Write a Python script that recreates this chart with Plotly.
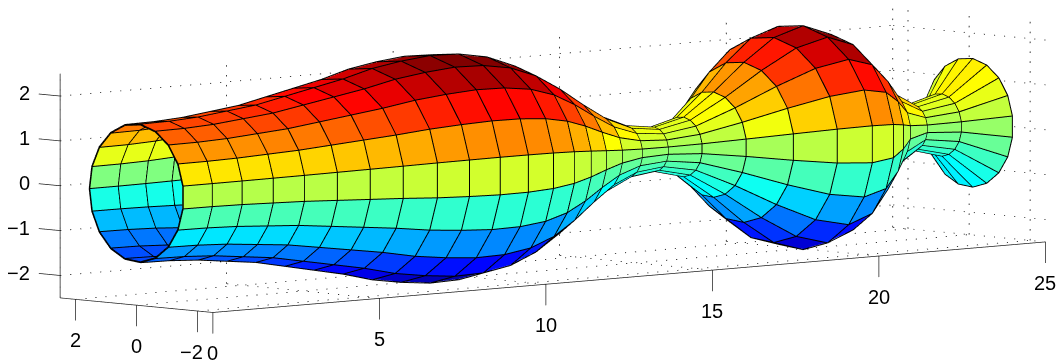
import numpy as np
import plotly.graph_objects as go

# radius of the tube at each section
radius = [1.54, 1.55, 1.59, 1.67, 1.75, 1.89, 2.03, 2.17, 2.35, 2.46,
          2.53, 2.51, 2.39, 2.13, 1.74, 1.29, 0.87, 0.58, 0.49, 0.66,
          1.17, 1.78, 2.28, 2.49, 2.24, 1.62, 0.90, 0.51, 0.69, 1.43]
x_ticks = [0, 5, 10, 15, 20, 25]
y_ticks = [-2, 0, 2]
z_ticks = [-2, -1, 0, 1, 2]
sides = 19
x_lim = (0, 25)
y_lim = (-2.5, 2.5)
z_lim = (-2.5, 2.5)

jet = [[0, 'rgb(0,0,128)'], [0.125, 'rgb(0,0,255)'], [0.375, 'rgb(0,255,255)'],
       [0.625, 'rgb(255,255,0)'], [0.875, 'rgb(255,0,0)'], [1, 'rgb(128,0,0)']]

r = np.array(radius)
xs = np.linspace(x_lim[0], x_lim[1], len(r))
th = np.linspace(0, 2 * np.pi, sides + 1)
X = np.repeat(xs[:, None], sides + 1, axis=1)
Y = r[:, None] * np.cos(th)
Z = r[:, None] * np.sin(th)

rows, cols = X.shape
idx = np.arange(rows * cols).reshape(rows, cols)
i_, j_, k_, colour = [], [], [], []
for a in range(rows - 1):
    for b in range(cols - 1):
        # each facet takes the colour of its first corner, like MATLAB's surf
        i_ += [idx[a, b], idx[a, b]]
        j_ += [idx[a + 1, b], idx[a + 1, b + 1]]
        k_ += [idx[a + 1, b + 1], idx[a, b + 1]]
        colour += [Z[a, b], Z[a, b]]

fig = go.Figure()
fig.add_trace(go.Mesh3d(x=X.ravel(), y=Y.ravel(), z=Z.ravel(), i=i_, j=j_, k=k_,
                        intensity=colour, intensitymode='cell', colorscale=jet,
                        cmin=Z.min(), cmax=Z.max(), showscale=False, flatshading=True,
                        lighting=dict(ambient=1, diffuse=0, specular=0, roughness=1, fresnel=0)))


def lines(segments):
    out = [[], [], []]
    for seg in segments:
        for n in range(3):
            out[n] += list(seg[n]) + [None]
    return out


def dots(start, end, step):
    # dotted grid line: very short dashes, since scatter3d's own dash pattern stretches
    start, end = np.array(start, float), np.array(end, float)
    length = np.abs(end - start).max()
    out = []
    for s in np.arange(0, length, step):
        a = start + (end - start) * s / length
        b = start + (end - start) * (s + 0.035) / length
        out.append(tuple(zip(a, b)))
    return out


# edge lines sit just off the surface on both sides so they don't z-fight with the facets
mesh = []
for off in (1.006, 0.994):
    mesh += [(X[a], Y[a] * off, Z[a] * off) for a in range(rows)]
    mesh += [(X[:, b], Y[:, b] * off, Z[:, b] * off) for b in range(cols)]
mx, my, mz = lines(mesh)
fig.add_trace(go.Scatter3d(x=mx, y=my, z=mz, mode='lines', line=dict(color='black', width=2)))

x0, x1 = x_lim
y0, y1 = y_lim
z0, z1 = z_lim
grid = []
for t in x_ticks:
    grid += dots((t, y0, z0), (t, y1, z0), 0.33) + dots((t, y1, z0), (t, y1, z1), 0.22)
for t in y_ticks:
    grid += dots((x0, t, z0), (x1, t, z0), 0.3) + dots((x1, t, z0), (x1, t, z1), 0.22)
for t in z_ticks:
    grid += dots((x0, y1, t), (x1, y1, t), 0.3) + dots((x1, y0, t), (x1, y1, t), 0.33)
gx, gy, gz = lines(grid)
fig.add_trace(go.Scatter3d(x=gx, y=gy, z=gz, mode='lines', line=dict(color='black', width=1.5)))

axes = [((x0, x1), (y0, y0), (z0, z0)), ((x0, x0), (y0, y1), (z0, z0)), ((x0, x0), (y1, y1), (z0, z1))]
axes += [((t, t), (y0, y0), (z0, z0 - 0.47)) for t in x_ticks]
axes += [((x0, x0), (t, t), (z0, z0 - 0.47)) for t in y_ticks]
axes += [((x0, x0), (y1, y1 + 0.7), (t, t)) for t in z_ticks]
ax, ay, az = lines(axes)
fig.add_trace(go.Scatter3d(x=ax, y=ay, z=az, mode='lines', line=dict(color='#222222', width=1.5)))

font = dict(family='Liberation Sans', size=20, color='black')


def label(x, y, z, v, **kw):
    return dict(x=x, y=y, z=z, text=str(v).replace('-', '\u2212'), showarrow=False, font=font, **kw)


notes = [label(t, y0, z0 - 0.91, t) for t in x_ticks]
notes += [label(x0, t, z0 - 0.91, t, xshift=-6 if t < 0 else 0) for t in y_ticks]
notes += [label(x0, y1 + 0.92, t, t, xanchor='right') for t in z_ticks]

far = 30
zoom = 4.95
fig.update_layout(
    width=1057, height=360, autosize=False, showlegend=False,
    margin=dict(l=0, r=0, t=0, b=0), paper_bgcolor='white',
    scene=dict(
        domain=dict(x=[0, 1], y=[0, 1]),
        xaxis=dict(visible=False, range=[-8.23, 31.77]),
        yaxis=dict(visible=False, range=[-10, 10]),
        zaxis=dict(visible=False, range=[-10.45, 9.55]),
        aspectmode='manual', aspectratio=dict(x=2 * zoom * 1.027, y=zoom, z=zoom * 1.011),
        camera=dict(projection=dict(type='orthographic'),
                    up=dict(x=0, y=0, z=1), center=dict(x=0, y=0, z=0),
                    eye=dict(x=-0.683 * far, y=-0.725 * far, z=0.09 * far)),
        annotations=notes,
    ),
)
# drop the page's default margin so the figure fills the window
fig.write_html("out.html", config=dict(displayModeBar=False),
               post_script="document.body.style.margin='0';document.documentElement.style.overflow='hidden';")
